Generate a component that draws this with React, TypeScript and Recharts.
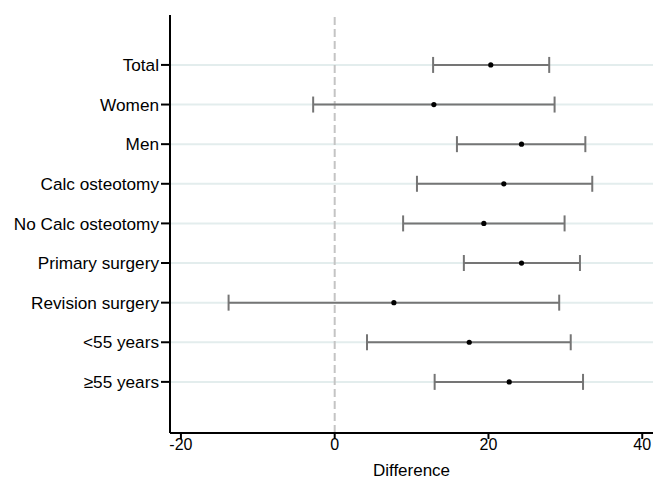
import {
  ScatterChart,
  Scatter,
  XAxis,
  YAxis,
  ReferenceLine,
  ErrorBar,
} from 'recharts';

const groups = [
  'Total',
  'Women',
  'Men',
  'Calc osteotomy',
  'No Calc osteotomy',
  'Primary surgery',
  'Revision surgery',
  '<55 years',
  '≥55 years',
];
const estimates = [20.3, 12.9, 24.3, 22.0, 19.4, 24.3, 7.7, 17.5, 22.7];
const lower = [12.8, -2.8, 15.9, 10.7, 8.9, 16.8, -13.8, 4.2, 13.0];
const upper = [27.9, 28.6, 32.6, 33.5, 29.9, 31.9, 29.2, 30.7, 32.3];
const xTicks = [-20, 0, 20, 40];

// top row sits at the highest y value
const rows = groups.map((name, i) => ({
  name,
  pos: groups.length - 1 - i,
  est: estimates[i],
  err: [estimates[i] - lower[i], upper[i] - estimates[i]],
}));

const rowTicks = rows.map((r) => r.pos);
const labelFor = (v: number) => groups[groups.length - 1 - v] ?? '';

const font = 'Liberation Sans, Arial, sans-serif';

const Dot = (props: any) => <circle cx={props.cx} cy={props.cy} r={2.6} fill="#000" />;

export default function App() {
  return (
    <div style={{ position: 'absolute', left: 0, top: 0, background: '#fff', fontFamily: font }}>
      <ScatterChart
        width={654}
        height={478}
        margin={{ top: 15, right: 1, bottom: 0, left: 0 }}
      >
        {rowTicks.map((p) => (
          <ReferenceLine key={p} y={p} stroke="#e3eded" strokeWidth={2} />
        ))}
        <XAxis
          type="number"
          dataKey="est"
          domain={[-21.42, 41.4]}
          ticks={xTicks}
          height={45}
          tickSize={6}
          tickMargin={0}
          axisLine={{ stroke: '#000', strokeWidth: 2 }}
          tickLine={{ stroke: '#000', strokeWidth: 2 }}
          tick={{ fill: '#000', fontSize: 16, fontFamily: font }}
          label={{ value: 'Difference', position: 'insideBottom', offset: 2.5, fill: '#000', fontSize: 17, fontFamily: font }}
        />
        <YAxis
          type="number"
          dataKey="pos"
          domain={[-1.29, 9.26]}
          ticks={rowTicks}
          tickFormatter={labelFor}
          width={170}
          tickSize={9}
          tickMargin={2}
          axisLine={{ stroke: '#000', strokeWidth: 2 }}
          tickLine={{ stroke: '#000', strokeWidth: 2 }}
          tick={{ fill: '#000', fontSize: 17.2, fontFamily: font }}
        />
        <ReferenceLine x={0} stroke="#c4c4c4" strokeWidth={2} strokeDasharray="8 4" />
        <Scatter data={rows} shape={<Dot />} isAnimationActive={false}>
          <ErrorBar dataKey="err" direction="x" width={8} stroke="#757575" strokeWidth={2} />
        </Scatter>
      </ScatterChart>
    </div>
  );
}
